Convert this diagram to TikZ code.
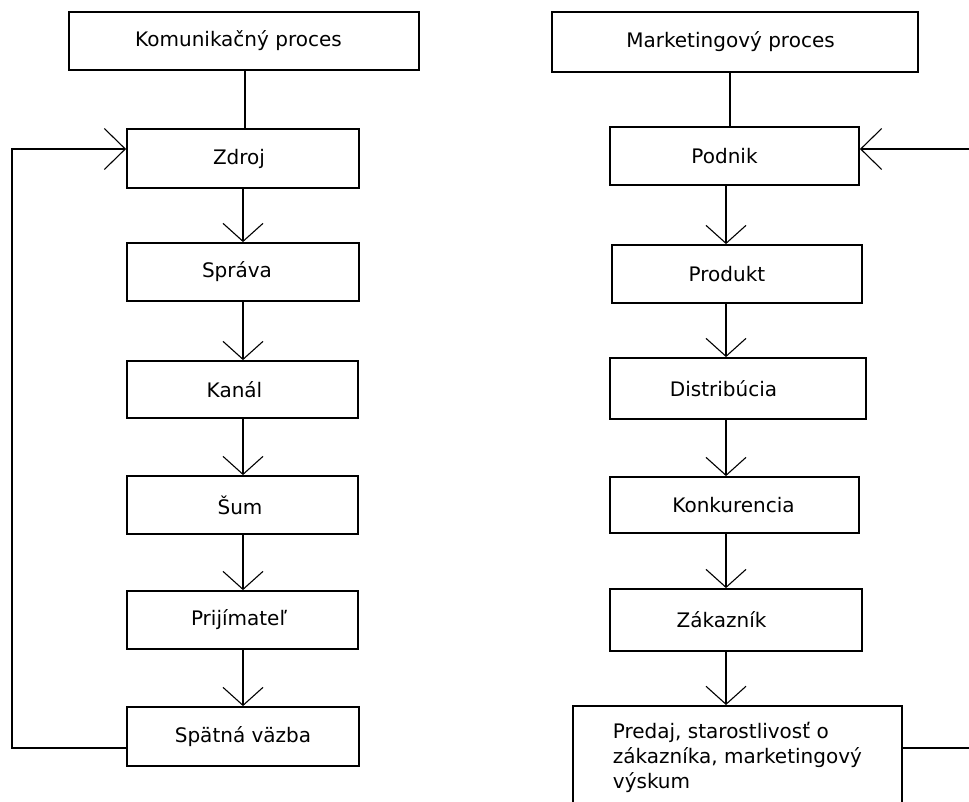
\documentclass[tikz,border=0pt]{standalone}
\usepackage{fontspec}
\setmainfont{DejaVu Sans}
\usetikzlibrary{arrows.meta,calc}
\begin{document}
\begin{tikzpicture}[x=1pt,y=-1pt,
  box/.style={draw, line width=1.8pt, minimum width=232pt, minimum height=58pt, inner sep=0pt, font=\fontsize{20}{25}\selectfont},
  conn/.style={line width=1.6pt},
  arr/.style={conn, -{Straight Barb[length=18pt,width=40pt,line width=1.1pt]}},
  farr/.style={conn, -{Straight Barb[length=21pt,width=41pt,line width=1.1pt]}},
]
\useasboundingbox (0,0) rectangle (969,801);
% column reference x-positions
\coordinate (lt) at (245,0);
\coordinate (lc) at (243,0);
\coordinate (rt) at (730,0);
\coordinate (rc) at (726,0);
\coordinate (lft) at (12,450);
\coordinate (rgt) at (971,450);

% left column
\node[box, minimum width=350pt] (kp) at (244,41) {\hspace*{-11pt}Komunikačný proces};
\node[box, minimum height=59pt] (zdroj) at (243,158.5) {\hspace*{-8pt}Zdroj};
\node[box] (sprava) at (243,272) {\hspace*{-12pt}Správa};
\node[box, minimum width=231pt, minimum height=57pt] (kanal) at (242.5,389.5) {\hspace*{-16pt}Kanál};
\node[box, minimum width=231pt] (sum) at (242.5,505) {\hspace*{-5pt}Šum};
\node[box, minimum width=231pt] (prij) at (242.5,620) {\hspace*{-7pt}Prijímateľ};
\node[box, minimum height=59pt] (spv) at (243,736.5) {Spätná väzba};

% right column
\node[box, minimum width=366pt, minimum height=60pt] (mp) at (735,42) {\hspace*{-9pt}Marketingový proces};
\node[box, minimum width=249pt] (podnik) at (734.5,156) {\hspace*{-20pt}Podnik};
\node[box, minimum width=250pt] (produkt) at (737,274) {\hspace*{-20pt}Produkt};
\node[box, minimum width=256pt, minimum height=61pt] (distr) at (738,388.5) {\hspace*{-29pt}Distribúcia};
\node[box, minimum width=249pt, minimum height=56pt] (konk) at (734.5,505) {\hspace*{-2pt}Konkurencia};
\node[box, minimum width=252pt, minimum height=62pt] (zak) at (736,620) {\hspace*{-29pt}Zákazník};
\node[box, minimum width=329pt, minimum height=104pt, align=left, anchor=north west] (predaj) at (572,705) {Predaj, starostlivosť o\\zákazníka, marketingový\\výskum};

% left connectors
\draw[conn] (kp.south -| lt) -- (zdroj.north -| lt);
\draw[arr] (zdroj.south -| lc) -- (sprava.north -| lc);
\draw[arr] (sprava.south -| lc) -- (kanal.north -| lc);
\draw[arr] (kanal.south -| lc) -- (sum.north -| lc);
\draw[arr] (sum.south -| lc) -- (prij.north -| lc);
\draw[arr] (prij.south -| lc) -- (spv.north -| lc);
\draw[farr] ($(spv.west)+(0,11.5)$) -| (lft) |- ($(zdroj.west)+(0,-9.5)$);

% right connectors
\draw[conn] (mp.south -| rt) -- (podnik.north -| rt);
\draw[arr] (podnik.south -| rc) -- (produkt.north -| rc);
\draw[arr] (produkt.south -| rc) -- (distr.north -| rc);
\draw[arr] (distr.south -| rc) -- (konk.north -| rc);
\draw[arr] (konk.south -| rc) -- (zak.north -| rc);
\draw[arr] (zak.south -| rc) -- (predaj.north -| rc);
\draw[farr] ($(predaj.east)+(0,-10)$) -| (rgt) |- ($(podnik.east)+(0,-7)$);
\end{tikzpicture}
\end{document}
